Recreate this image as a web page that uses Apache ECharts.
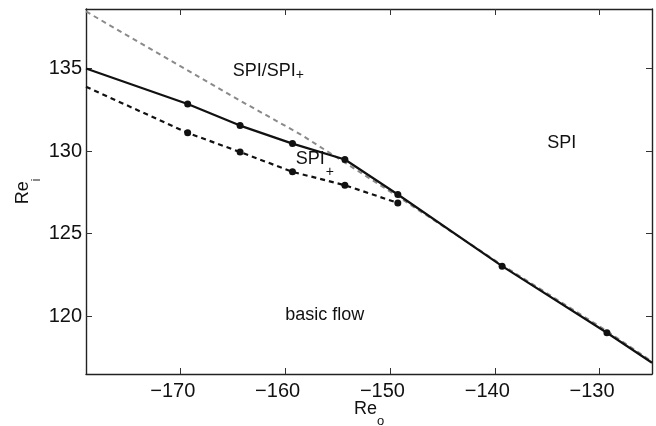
<!DOCTYPE html>
<html>
<head>
<meta charset="utf-8">
<script src="https://cdn.jsdelivr.net/npm/echarts@6/dist/echarts.min.js"></script>
<style>
  html, body { margin: 0; padding: 0; background: #fff; }
  #chart { width: 656px; height: 426px; }
</style>
</head>
<body>
<div id="chart"></div>
<script>
// SPI boundary (solid) with computed points
var solidReo = [-179, -169.3, -164.3, -159.3, -154.3, -149.25, -139.3, -129.3, -125];
var solidRei = [135.0, 132.85, 131.54, 130.45, 129.49, 127.37, 123.03, 119.0, 117.18];
// SPI+ boundary (black dashed)
var dashReo = [-179, -169.3, -164.3, -159.3, -154.3, -149.25];
var dashRei = [133.89, 131.1, 129.94, 128.74, 127.93, 126.86];
// grey dashed curve
var greyReo = [-179, -165, -158.5, -154.3, -149.25, -139.3, -129.3, -125];
var greyRei = [138.45, 133.3, 131.0, 129.3, 127.25, 123.1, 119.1, 117.25];
// tick labels
var xTicks = [-170, -160, -150, -140, -130];
var yTicks = [120, 125, 130, 135];
// region names
var regionNames = ['SPI/SPI', 'SPI', 'SPI', 'basic flow'];
var regionSubs = ['s', '', 't', ''];
var regionReo = [-165, -135, -159, -160];
var regionRei = [134.85, 130.5, 129.5, 120.05];

var FONT = '"Liberation Sans", Arial, Helvetica, sans-serif';

function pairs(xs, ys) {
  var out = [];
  for (var i = 0; i < xs.length; i++) out.push([xs[i], ys[i]]);
  return out;
}

var regionData = [];
for (var i = 0; i < regionNames.length; i++) {
  var txt = '{m|' + regionNames[i] + '}';
  if (regionSubs[i]) txt += '{' + regionSubs[i] + '|+}';
  regionData.push({ value: [regionReo[i], regionRei[i]], label: { formatter: txt } });
}

var myChart = echarts.init(document.getElementById('chart'));

var frame = { show: true, onZero: false, lineStyle: { color: '#222', width: 1.4 } };
var tick = { show: true, inside: true, length: 6, lineStyle: { color: '#333', width: 1 } };

var option = {
  animation: false,
  grid: { left: 86, right: 4, top: 9, bottom: 52, outerBoundsMode: 'none', containLabel: false },
  xAxis: [
    {
      type: 'value', min: -179, max: -125, position: 'bottom',
      axisLine: frame,
      axisTick: Object.assign({ customValues: xTicks }, tick),
      axisLabel: {
        customValues: xTicks, margin: 7, fontSize: 20, fontFamily: FONT, color: '#111',
        padding: [0, 15, 0, 0],
        formatter: function (v) { return '\u2212' + Math.abs(v); }
      },
      splitLine: { show: false },
      name: '{m|Re}{s|o}', nameLocation: 'middle', nameGap: 25, nameMoveOverlap: false,
      nameTextStyle: {
        rich: {
          m: { fontSize: 18, lineHeight: 20, fontFamily: FONT, color: '#111' },
          s: { fontSize: 13, lineHeight: 13, fontFamily: FONT, color: '#111', padding: [24, 0, 0, 0] }
        }
      }
    },
    {
      type: 'value', min: -179, max: -125, position: 'top',
      axisLine: frame,
      axisTick: Object.assign({ customValues: xTicks }, tick),
      axisLabel: { show: false },
      splitLine: { show: false }
    }
  ],
  yAxis: [
    {
      type: 'value', min: 116.5, max: 138.6, position: 'left',
      axisLine: frame,
      axisTick: Object.assign({ customValues: yTicks }, tick),
      axisLabel: { customValues: yTicks, margin: 4, fontSize: 20, fontFamily: FONT, color: '#111' },
      splitLine: { show: false },
      name: '{m|Re}{s|i}', nameLocation: 'middle', nameRotate: 90, nameGap: 53, nameMoveOverlap: false,
      nameTextStyle: {
        rich: {
          m: { fontSize: 18, lineHeight: 20, fontFamily: FONT, color: '#111' },
          s: { fontSize: 12, lineHeight: 13, fontFamily: FONT, color: '#111', padding: [28, 0, 0, 0] }
        }
      }
    },
    {
      type: 'value', min: 116.5, max: 138.6, position: 'right',
      axisLine: frame,
      axisTick: Object.assign({ customValues: yTicks }, tick),
      axisLabel: { show: false },
      splitLine: { show: false }
    }
  ],
  series: [
    {
      name: 'grey',
      type: 'line',
      data: pairs(greyReo, greyRei),
      showSymbol: false,
      lineStyle: { color: '#8a8a8a', width: 2, type: [5, 4] },
      z: 1
    },
    {
      name: 'SPI',
      type: 'line',
      data: pairs(solidReo, solidRei),
      symbol: 'circle',
      symbolSize: function (v, p) {
        return (p.dataIndex === 0 || p.dataIndex === solidReo.length - 1) ? 0 : 7;
      },
      itemStyle: { color: '#111' },
      lineStyle: { color: '#111', width: 2.2 },
      z: 3
    },
    {
      name: 'SPI+',
      type: 'line',
      data: pairs(dashReo, dashRei),
      symbol: 'circle',
      symbolSize: function (v, p) { return p.dataIndex === 0 ? 0 : 7; },
      itemStyle: { color: '#111' },
      lineStyle: { color: '#111', width: 2.2, type: [5, 4] },
      z: 2
    },
    {
      name: 'regions',
      type: 'scatter',
      data: regionData,
      symbolSize: 0,
      silent: true,
      itemStyle: { opacity: 1 },
      label: {
        show: true, position: 'right', distance: 0, opacity: 1,
        rich: {
          m: { fontSize: 18, lineHeight: 20, fontFamily: FONT, color: '#111' },
          s: { fontSize: 14, lineHeight: 14, fontFamily: FONT, color: '#111', padding: [8, 0, 0, 0] },
          t: { fontSize: 14, lineHeight: 14, fontFamily: FONT, color: '#111', padding: [26, 0, 0, 1] }
        }
      },
      z: 4
    }
  ]
};

myChart.setOption(option);
window.addEventListener('resize', function () {
  myChart.resize();
});
</script>
</body>
</html>
